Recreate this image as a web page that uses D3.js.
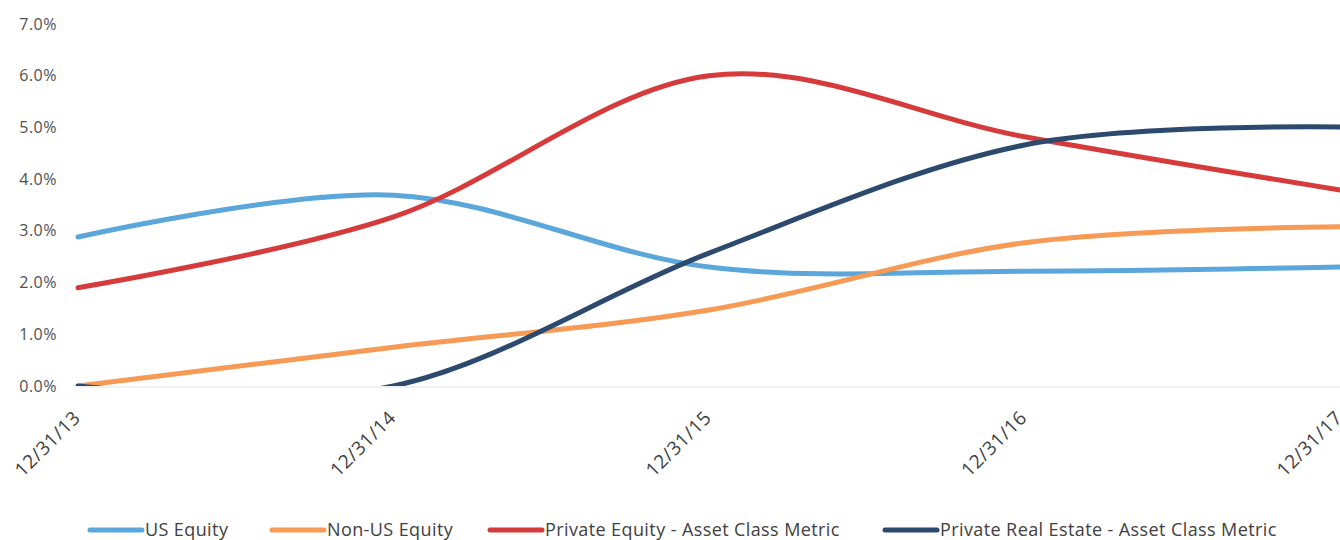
<!DOCTYPE html>
<html>
<head>
<meta charset="utf-8">
<script src="https://cdn.jsdelivr.net/npm/d3@7"></script>
<style>
  html, body { margin: 0; padding: 0; background: #fff; }
  svg { display: block; }
  text { font-family: "Open Sans", "Liberation Sans", sans-serif; }
</style>
</head>
<body>
<svg id="chart" width="1340" height="540"></svg>
<script>
// ---- Data ----
const categories = ["12/31/13", "12/31/14", "12/31/15", "12/31/16", "12/31/17"];
const usEquity = [2.88, 3.69, 2.3, 2.22, 2.3];
const nonUsEquity = [0.0, 0.75, 1.47, 2.77, 3.08];
const privateEquity = [1.9, 3.27, 6.0, 4.82, 3.79];
const privateRealEstate = [0.0, 0.0, 2.57, 4.66, 5.01];
const yTicks = [0, 1, 2, 3, 4, 5, 6, 7];
const seriesNames = ["US Equity", "Non-US Equity", "Private Equity - Asset Class Metric", "Private Real Estate - Asset Class Metric"];

const series = [
  { name: seriesNames[0], values: usEquity, color: "#5ba7dc" },
  { name: seriesNames[1], values: nonUsEquity, color: "#f79a55" },
  { name: seriesNames[2], values: privateEquity, color: "#d63b3b" },
  { name: seriesNames[3], values: privateRealEstate, color: "#2b4a6e" }
];

const svg = d3.select("#chart");
const x = d3.scalePoint().domain(categories).range([78, 1340]);
const y = d3.scaleLinear().domain([0, 7]).range([386, 24]);

// clip to plot area
svg.append("defs").append("clipPath").attr("id", "plot")
  .append("rect").attr("x", 0).attr("y", 0).attr("width", 1340).attr("height", y(0));

// baseline
svg.append("line")
  .attr("x1", x(categories[0])).attr("x2", 1340)
  .attr("y1", y(0) + 1).attr("y2", y(0) + 1)
  .attr("stroke", "#e3e3e3").attr("stroke-width", 1);

// y axis labels
const yAxis = d3.axisLeft(y).tickValues(yTicks).tickSize(0).tickPadding(0)
  .tickFormat(d => d3.format(".1f")(d) + "%");
const gy = svg.append("g").attr("transform", "translate(57,0)").call(yAxis);
gy.select(".domain").remove();
gy.selectAll("text").attr("font-size", 16).attr("fill", "#505050")
  .attr("letter-spacing", "0.5px")
  .attr("font-family", "'Open Sans', 'Liberation Sans', sans-serif");

// x axis labels
const xAxis = d3.axisBottom(x).tickSize(0).tickPadding(0);
const gx = svg.append("g").attr("transform", `translate(0,${y(0)})`).call(xAxis);
gx.select(".domain").remove();
gx.selectAll("text")
  .attr("font-size", 19).attr("fill", "#404040")
  .attr("letter-spacing", "0.5px")
  .attr("font-family", "'Open Sans', 'Liberation Sans', sans-serif")
  .attr("text-anchor", "end")
  .attr("y", 0)
  .attr("dy", "0")
  .attr("transform", "translate(3,33) rotate(-45)");

// lines
const line = d3.line()
  .x((d, i) => x(categories[i]))
  .y(d => y(d))
  .curve(d3.curveCardinal.tension(0));

svg.append("g").attr("clip-path", "url(#plot)")
  .selectAll("path").data(series).join("path")
  .attr("d", d => line(d.values))
  .attr("fill", "none")
  .attr("stroke", d => d.color)
  .attr("stroke-width", 5)
  .attr("stroke-linecap", "round");

// legend
const legendX = [90, 272, 490, 885];
const lg = svg.append("g");
series.forEach((s, i) => {
  const g = lg.append("g").attr("transform", `translate(${legendX[i]},530)`);
  g.append("line").attr("x1", 0).attr("x2", 52).attr("y1", 0).attr("y2", 0)
    .attr("stroke", s.color).attr("stroke-width", 5).attr("stroke-linecap", "round");
  g.append("text").attr("x", 55).attr("y", 0).attr("dy", "0.35em")
    .attr("font-size", 18).attr("letter-spacing", "0.4px")
    .attr("fill", "#404040").text(s.name);
});
</script>
</body>
</html>
